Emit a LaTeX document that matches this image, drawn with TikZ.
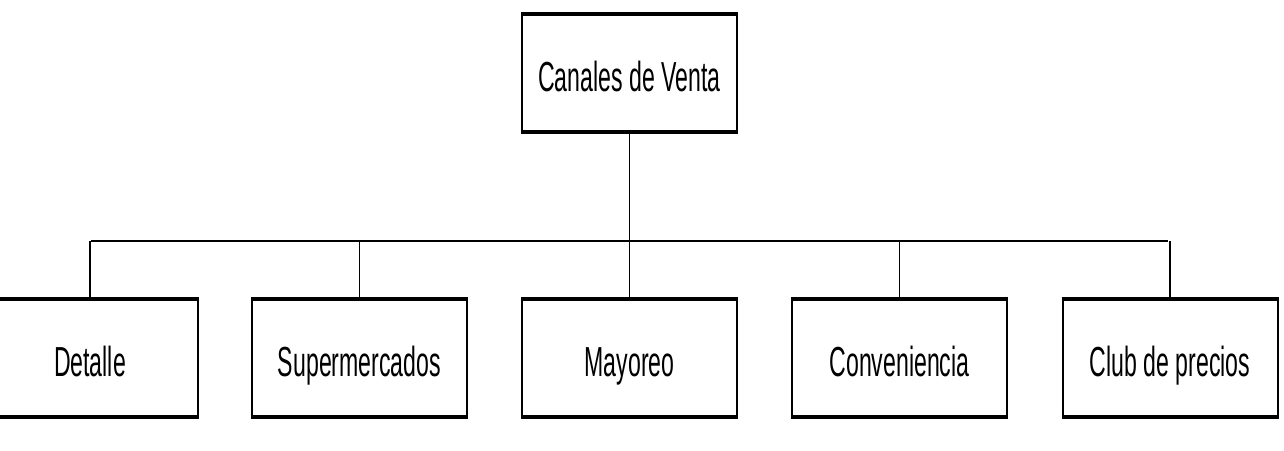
\documentclass[tikz,border=0pt]{standalone}
\usepackage{fontspec}
\setmainfont[FakeStretch=0.55]{Liberation Sans}
\begin{document}
\begin{tikzpicture}[x=0.5pt,y=-0.5pt,
  box/.style={draw, line width=1pt, fill=white, minimum width=107.5pt, minimum height=58pt, inner sep=0pt, text height=21pt, text depth=2pt, font=\fontsize{21}{24}\selectfont},
  thickedge/.style={line width=2pt},
  conn/.style={line width=0.6pt},
  bus/.style={line width=1.1pt}]
\useasboundingbox (0,0) rectangle (1284,450);
\clip (0,0) rectangle (1284,450);
\node[box] (top) at (629.5,72.5) {Canales de Venta};
\node[box] (b1) at (90,357.5) {Detalle};
\node[box] (b2) at (359.5,357.5) {Supermercados};
\node[box] (b3) at (629.5,357.5) {Mayoreo};
\node[box] (b4) at (899.5,357.5) {Conveniencia};
\node[box] (b5) at (1170,357.5) {Club de precios};
\foreach \n in {top,b1,b2,b3,b4,b5}{
  \draw[thickedge] (\n.north west) -- (\n.north east);
  \draw[thickedge] (\n.south west) -- (\n.south east);
}
\coordinate (busL) at (91,241);
\coordinate (busR) at (1168,241);
\draw[bus] (busL) -- (busR);
\draw[conn] (top.south) -- (top.south |- busL);
\foreach \n in {b1,b2,b3,b4,b5}{
  \draw[conn] (\n.north) -- (\n.north |- busL);
}
\end{tikzpicture}
\end{document}
